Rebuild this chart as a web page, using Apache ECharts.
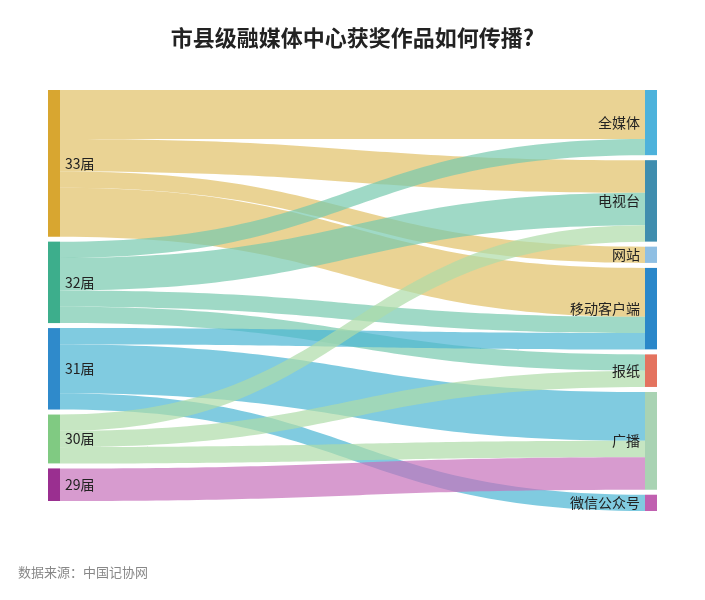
<!DOCTYPE html>
<html>
<head>
<meta charset="utf-8">
<script src="https://cdn.jsdelivr.net/npm/echarts@6/dist/echarts.min.js"></script>
<style>
html,body{margin:0;padding:0;background:#fff;}
#main{width:705px;height:600px;}
</style>
</head>
<body>
<div id="main"></div>
<script>
// Source nodes (sessions) and target nodes (channels)
var sources = ['33届', '32届', '31届', '30届', '29届'];
var targets = ['全媒体', '电视台', '网站', '移动客户端', '报纸', '广播', '微信公众号'];

// Link values: [source, target, value]
var flows = [
  ['33届', '全媒体', 6],
  ['33届', '电视台', 4],
  ['33届', '网站', 2],
  ['33届', '移动客户端', 6],
  ['32届', '全媒体', 2],
  ['32届', '电视台', 4],
  ['32届', '移动客户端', 2],
  ['32届', '报纸', 2],
  ['31届', '移动客户端', 2],
  ['31届', '广播', 6],
  ['31届', '微信公众号', 2],
  ['30届', '电视台', 2],
  ['30届', '报纸', 2],
  ['30届', '广播', 2],
  ['29届', '广播', 4]
];

var sourceColors = ['#D8A630', '#3DAE8C', '#2F8ACB', '#80CA82', '#9A2F90'];
var targetColors = ['#4DB2DB', '#3F8DAE', '#8FBFE3', '#2A87C9', '#E4735F', '#A9D3B3', '#C060B0'];
var linkColors = ['#e1c166', '#76c9ae', '#4ab5d3', '#aedba8', '#c670ba'];

var nodes = [];
sources.forEach(function (n, i) {
  nodes.push({ name: n, itemStyle: { color: sourceColors[i] }, label: { position: 'right' } });
});
targets.forEach(function (n, i) {
  nodes.push({ name: n, itemStyle: { color: targetColors[i] }, label: { position: 'left' } });
});
var links = flows.map(function (f) {
  var si = sources.indexOf(f[0]);
  return { source: f[0], target: f[1], value: f[2], lineStyle: { color: linkColors[si] } };
});

var chart = echarts.init(document.getElementById('main'));
chart.setOption({
  backgroundColor: '#fff',
  title: [{
    text: '市县级融媒体中心获奖作品如何传播?',
    left: 'center',
    top: 22,
    textStyle: { fontFamily: 'Noto Sans CJK SC', fontWeight: 'bold', fontSize: 22, color: '#222' }
  }, {
    text: '数据来源：中国记协网',
    left: 13,
    top: 561,
    textStyle: { fontFamily: 'Noto Sans CJK SC', fontWeight: 'normal', fontSize: 13, color: '#888' }
  }],
  series: [{
    type: 'sankey',
    left: 48,
    right: 48,
    top: 90,
    bottom: 89,
    nodeWidth: 12,
    nodeGap: 5,
    layoutIterations: 0,
    draggable: false,
    emphasis: { disabled: true },
    label: {
      fontFamily: 'Noto Sans CJK SC',
      fontSize: 14,
      color: '#222',
      distance: 5
    },
    lineStyle: { curveness: 0.5, opacity: 0.7 },
    itemStyle: { borderWidth: 0 },
    data: nodes,
    links: links
  }]
});
</script>
</body>
</html>
